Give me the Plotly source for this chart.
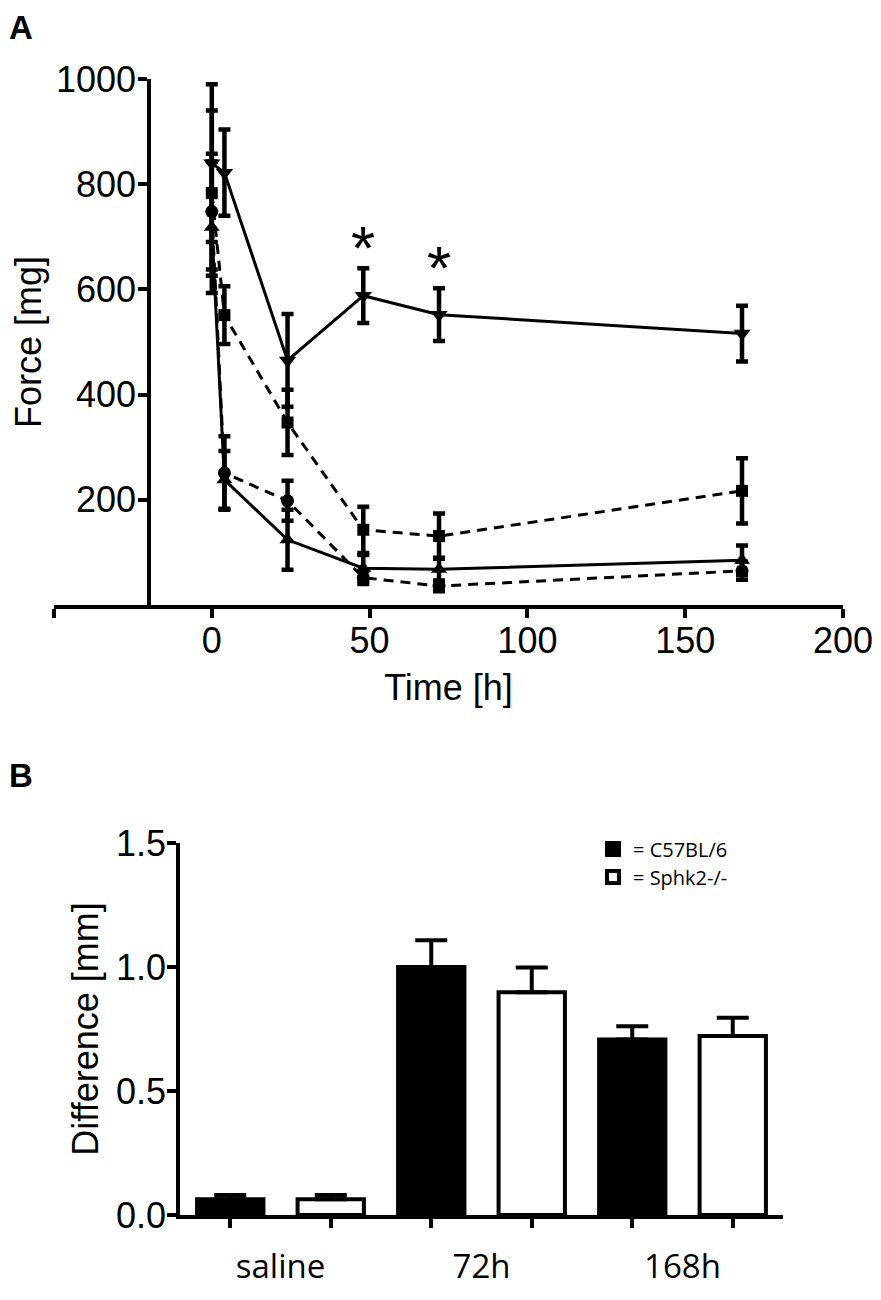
import plotly.graph_objects as go

# ---------------- Panel A data ----------------
time_h = [0, 4, 24, 48, 72, 168]
s_down_y = [840, 822, 465, 588, 552, 516]     # solid, down triangles
s_down_err = [150, 82, 88, 52, 50, 53]
s_square_y = [783, 551, 347, 143, 131, 217]   # dashed, squares
s_square_err = [157, 55, 62, 44, 43, 62]
s_circle_y = [748, 251, 198, 52, 36, 65]      # dashed, circles
s_circle_err = [110, 70, 38, 12, 10, 17]
s_up_y = [718, 238, 124, 70, 68, 85]          # solid, up triangles
s_up_err = [125, 55, 57, 25, 22, 28]
sig_times = [48, 72]
sig_tops = [588 + 52, 552 + 50]
sig_text = ["*", "*"]

xa_tickvals = [-50, 0, 50, 100, 150, 200]
xa_ticktext = ["", "0", "50", "100", "150", "200"]
ya_tickvals = [200, 400, 600, 800, 1000]

# ---------------- Panel B data ----------------
groups = ["saline", "72h", "168h"]
c57_vals = [0.064, 1.0, 0.708]
c57_err = [0.017, 0.108, 0.053]
sphk2_vals = [0.064, 0.898, 0.722]
sphk2_err = [0.017, 0.100, 0.073]
legend_names = ["= C57BL/6", "= Sphk2-/-"]
yb_tickvals = [0, 0.5, 1.0, 1.5]

ARIAL = "Liberation Sans, Arial, sans-serif"
SANS = "Open Sans, sans-serif"
OFF = 8  # page body margin
W, H = 881 - 2 * OFF, 1300 - 2 * OFF


def X(px):
    return (px - OFF) / W


def Y(py):
    return 1 - (py - OFF) / H


fig = go.Figure()

series = [
    (s_down_y, s_down_err, "triangle-down", "solid", 15),
    (s_square_y, s_square_err, "square", "10px,7px", 12),
    (s_circle_y, s_circle_err, "circle", "10px,7px", 13),
    (s_up_y, s_up_err, "triangle-up", "solid", 14),
]
for yv, ev, sym, dash, msize in series:
    fig.add_trace(go.Scatter(
        x=time_h, y=yv, mode="lines+markers",
        line=dict(color="black", width=3, dash=dash),
        marker=dict(symbol=sym, size=msize, color="black"),
        error_y=dict(type="data", array=ev, visible=True, color="black",
                     thickness=4.5, width=6),
        xaxis="x", yaxis="y", showlegend=False, hoverinfo="skip",
    ))

for t, top, txt in zip(sig_times, sig_tops, sig_text):
    fig.add_annotation(x=t, y=top, xref="x", yref="y", text=txt, showarrow=False,
                       yanchor="bottom", yshift=-16,
                       font=dict(family=ARIAL, size=62, color="black"))

# Panel B bars
pos_c57 = [i - 0.25 for i in range(len(groups))]
pos_sp = [i + 0.25 for i in range(len(groups))]
fig.add_trace(go.Bar(
    x=pos_c57, y=c57_vals, width=0.33, name=legend_names[0],
    marker=dict(color="black", line=dict(color="black", width=4)),
    error_y=dict(type="data", array=c57_err, arrayminus=[0] * len(groups),
                 symmetric=False, color="black", thickness=4, width=16),
    xaxis="x2", yaxis="y2", legend="legend", hoverinfo="skip",
))
fig.add_trace(go.Bar(
    x=pos_sp, y=sphk2_vals, width=0.33, name=legend_names[1],
    marker=dict(color="white", line=dict(color="black", width=4)),
    error_y=dict(type="data", array=sphk2_err, arrayminus=[0] * len(groups),
                 symmetric=False, color="black", thickness=4, width=16),
    xaxis="x2", yaxis="y2", legend="legend2", hoverinfo="skip",
))

axis_common = dict(showline=True, linecolor="black", linewidth=3.5, ticks="outside",
                   ticklen=9, tickwidth=3.5, tickcolor="black", showgrid=False,
                   zeroline=False, automargin=False,
                   tickfont=dict(family=ARIAL, size=36, color="black"))
title_font = dict(family=ARIAL, size=36, color="black")
legend_common = dict(xanchor="left", yanchor="middle",
                     font=dict(family=SANS, size=20, color="black"),
                     bgcolor="rgba(0,0,0,0)", itemwidth=30)

fig.update_layout(
    width=W, height=H, margin=dict(l=0, r=0, t=0, b=0, autoexpand=False),
    paper_bgcolor="white", plot_bgcolor="white",
    barmode="overlay", hovermode=False,
    xaxis=dict(domain=[X(54), X(843)], range=[-50, 200], anchor="y",
               tickmode="array", tickvals=xa_tickvals, ticktext=xa_ticktext,
               ticklabeloverflow="allow", ticklabelstandoff=-8,
               title=dict(text="Time [h]", font=title_font, standoff=16),
               **axis_common),
    yaxis=dict(domain=[Y(605), Y(79)], range=[0, 1000], anchor="free",
               position=X(149), tickmode="array", tickvals=ya_tickvals,
               ticklabelstandoff=-5,
               title=dict(text="Force [mg]", font=title_font, standoff=9),
               **axis_common),
    xaxis2=dict(domain=[X(180), X(783)], range=[-0.5, 2.5], anchor="y2",
                tickmode="array", tickvals=list(range(len(groups))), ticktext=groups,
                showline=True, linecolor="black", linewidth=3.5, ticks="outside",
                ticklen=0, tickwidth=0, ticklabelstandoff=20, automargin=False,
                ticklabeloverflow="allow",
                minor=dict(tickmode="array", tickvals=pos_c57 + pos_sp, ticks="outside",
                           ticklen=9, tickwidth=3.5, tickcolor="black", showgrid=False),
                showgrid=False, zeroline=False,
                tickfont=dict(family=SANS, size=33, color="black")),
    yaxis2=dict(domain=[Y(1215), Y(843)], range=[0, 1.5], anchor="x2",
                tickmode="array", tickvals=yb_tickvals, tickformat=".1f",
                ticklabelstandoff=-6,
                title=dict(text="Difference [mm]", font=title_font, standoff=7),
                **axis_common),
    legend=dict(x=X(593), y=Y(849), **legend_common),
    legend2=dict(x=X(593), y=Y(877), **legend_common),
    showlegend=True,
)

fig.add_annotation(x=X(7), y=Y(7), xref="paper", yref="paper", text="<b>A</b>",
                   showarrow=False, xanchor="left", yanchor="top",
                   font=dict(family=ARIAL, size=33, color="black"))
fig.add_annotation(x=X(7), y=Y(755), xref="paper", yref="paper", text="<b>B</b>",
                   showarrow=False, xanchor="left", yanchor="top",
                   font=dict(family=ARIAL, size=33, color="black"))

fig.write_html("out.html", config={"displayModeBar": False})
